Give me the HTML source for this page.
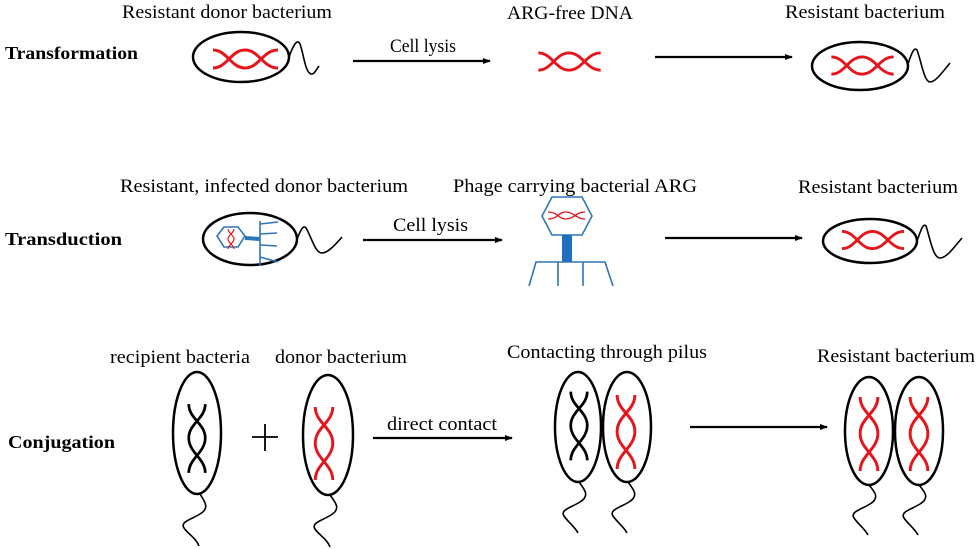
<!DOCTYPE html>
<html><head><meta charset="utf-8"><style>
html,body{margin:0;padding:0;background:#fff;}
svg{display:block;}
text{font-family:"Liberation Serif",serif;font-size:19px;fill:#000;}
.b{font-weight:bold;font-size:18px;}
</style></head><body>
<svg width="980" height="549" viewBox="0 0 980 549" xmlns="http://www.w3.org/2000/svg">
<defs>
<symbol id="h" viewBox="0 0 65 24" overflow="visible">
<path d="M0,21 C14,21 18,3 32,3 C46,3 50,21 65,21" fill="none" stroke-width="3"/>
<path d="M0,3 C14,3 18,21 32,21 C46,21 50,3 65,3" fill="none" stroke-width="3"/>
</symbol>
<symbol id="v" viewBox="0 0 24 75" overflow="visible">
<path d="M3,0 C3,16 21,21 21,37 C21,53 3,59 3,75" fill="none" stroke-width="3"/>
<path d="M21,0 C21,16 3,21 3,37 C3,53 21,59 21,75" fill="none" stroke-width="3"/>
</symbol>
<marker id="a" markerWidth="8" markerHeight="6" refX="7" refY="3" orient="auto" markerUnits="userSpaceOnUse">
<path d="M0,0 L8,3 L0,6 Z" fill="#000"/>
</marker>
</defs>
<g fill="none" stroke="#000" stroke-width="2.5">
<ellipse cx="241" cy="57" rx="48" ry="25"/>
<ellipse cx="860" cy="66" rx="48" ry="24"/>
<ellipse cx="870" cy="241" rx="47" ry="22"/>
</g>
<g fill="none" stroke="#000" stroke-width="1.6">
<path d="M289,57 C293,46 297,38 300,44 C304,55 305,72 311,74 C314,75 316,70 319,66"/>
<path d="M908,64 C911,55 914,46 917,50 C921,60 924,82 930,82 C936,82 944,70 950,63"/>
<path d="M297,239 C300,232 303,224 306,228 C312,238 315,253 322,253 C328,253 336,244 342,237"/>
<path d="M917,241 C920,233 923,222 926,226 C930,238 933,258 940,258 C947,258 955,246 962,238"/>
</g>
<g stroke="#000" stroke-width="2.2" fill="none">
<line x1="353" y1="61" x2="490" y2="61" marker-end="url(#a)"/>
<line x1="655" y1="57" x2="792" y2="57" marker-end="url(#a)"/>
<line x1="363" y1="240" x2="502" y2="240" marker-end="url(#a)"/>
<line x1="665" y1="238" x2="802" y2="238" marker-end="url(#a)"/>
<line x1="373" y1="438" x2="512" y2="438" marker-end="url(#a)"/>
<line x1="690" y1="427" x2="827" y2="427" marker-end="url(#a)"/>
</g>
<use href="#h" x="213" y="47" width="65" height="24" stroke="#e8141b"/>
<use href="#h" x="537" y="50" width="65" height="23" stroke="#e8141b"/>
<use href="#h" x="830" y="54" width="65" height="23" stroke="#e8141b"/>
<use href="#h" x="842" y="228" width="62" height="24" stroke="#e8141b"/>
<ellipse cx="250" cy="239" rx="47" ry="26" fill="none" stroke="#000" stroke-width="2.5"/>
<g stroke="#2e75b6" fill="none" stroke-width="1.6">
<path d="M224,227 L238,227 L245,236 L238,247 L224,247 L217,236 Z"/>
<line x1="245" y1="238" x2="260" y2="239" stroke-width="4"/>
<line x1="260" y1="221" x2="260" y2="266"/>
<line x1="260" y1="224" x2="278" y2="222"/>
<line x1="260" y1="234" x2="277" y2="233"/>
<line x1="260" y1="245" x2="277" y2="246"/>
<line x1="260" y1="257" x2="278" y2="262"/>
<path d="M542,216 L552,197 L582,197 L592,216 L582,235 L552,235 Z"/>
<rect x="562" y="235" width="10" height="27" fill="#1f6fc0" stroke="none"/>
<path d="M529,286 L536,262 L605,262 L613,286 M558,262 L558,286 M583,262 L583,286"/>
</g>
<g stroke="#e8141b" fill="none" stroke-width="1.2">
<path d="M228,229 C228,233 234,235 234,239 C234,243 228,245 228,249"/>
<path d="M234,229 C234,233 228,235 228,239 C228,243 234,245 234,249"/>
</g>
<g stroke="#e8141b" fill="none" stroke-width="1.3">
<path d="M548,219 C558,219 558,212 566,212 C574,212 576,219 585,219"/>
<path d="M548,212 C558,212 558,219 566,219 C574,219 576,212 585,212"/>
</g>
<g fill="none" stroke="#000" stroke-width="2.5">
<ellipse cx="197" cy="433" rx="24" ry="61"/>
<ellipse cx="328" cy="435" rx="25" ry="60"/>
<ellipse cx="578" cy="427" rx="23" ry="55"/>
<ellipse cx="627" cy="427" rx="24" ry="55"/>
<ellipse cx="869" cy="431" rx="24" ry="54"/>
<ellipse cx="919" cy="431" rx="24" ry="54"/>
</g>
<g fill="none" stroke="#000" stroke-width="1.6">
<path d="M200,494 C205,502 210,508 200,514 C190,520 180,522 184,528 C188,534 196,538 199,546"/>
<path d="M330,495 C336,503 341,509 331,515 C321,521 311,523 315,529 C319,535 327,539 330,547"/>
<path d="M579,482 C585,490 590,496 580,502 C570,508 560,510 564,516 C568,522 575,527 578,533"/>
<path d="M628,482 C634,490 639,496 629,502 C619,508 609,510 613,516 C617,522 624,527 627,533"/>
<path d="M869,485 C875,492 880,498 870,504 C860,510 850,512 854,518 C858,524 865,529 868,535"/>
<path d="M919,485 C925,492 930,498 920,504 C910,510 900,512 904,518 C908,524 915,529 918,535"/>
<path d="M265,424 V451 M252,437 H278" stroke-width="1.8"/>
</g>
<use href="#v" x="186" y="400" width="22" height="77" stroke="#000"/>
<use href="#v" x="312" y="407" width="24" height="73" stroke="#e8141b"/>
<use href="#v" x="568" y="387" width="22" height="78" stroke="#000"/>
<use href="#v" x="614" y="395" width="24" height="74" stroke="#e8141b"/>
<use href="#v" x="857" y="397" width="24" height="74" stroke="#e8141b"/>
<use href="#v" x="907" y="397" width="24" height="74" stroke="#e8141b"/>
<g lengthAdjust="spacingAndGlyphs">
<text class="b" x="5" y="59" textLength="133" lengthAdjust="spacingAndGlyphs">Transformation</text>
<text class="b" x="5" y="245" textLength="117" lengthAdjust="spacingAndGlyphs">Transduction</text>
<text class="b" x="8" y="448" textLength="107" lengthAdjust="spacingAndGlyphs">Conjugation</text>
<text x="122" y="18" textLength="210" lengthAdjust="spacingAndGlyphs">Resistant donor bacterium</text>
<text x="507" y="19" textLength="126" lengthAdjust="spacingAndGlyphs">ARG-free DNA</text>
<text x="785" y="18" textLength="160" lengthAdjust="spacingAndGlyphs">Resistant bacterium</text>
<text x="390" y="52" textLength="66" lengthAdjust="spacingAndGlyphs">Cell lysis</text>
<text x="120" y="192" textLength="288" lengthAdjust="spacingAndGlyphs">Resistant, infected donor bacterium</text>
<text x="453" y="192" textLength="244" lengthAdjust="spacingAndGlyphs">Phage carrying bacterial ARG</text>
<text x="798" y="193" textLength="160" lengthAdjust="spacingAndGlyphs">Resistant bacterium</text>
<text x="393" y="231" textLength="75" lengthAdjust="spacingAndGlyphs">Cell lysis</text>
<text x="110" y="363" textLength="140" lengthAdjust="spacingAndGlyphs">recipient bacteria</text>
<text x="275" y="363" textLength="132" lengthAdjust="spacingAndGlyphs">donor bacterium</text>
<text x="387" y="430" textLength="110" lengthAdjust="spacingAndGlyphs">direct contact</text>
<text x="507" y="358" textLength="200" lengthAdjust="spacingAndGlyphs">Contacting through pilus</text>
<text x="817" y="362" textLength="158" lengthAdjust="spacingAndGlyphs">Resistant bacterium</text>
</g>
</svg>
</body></html>
